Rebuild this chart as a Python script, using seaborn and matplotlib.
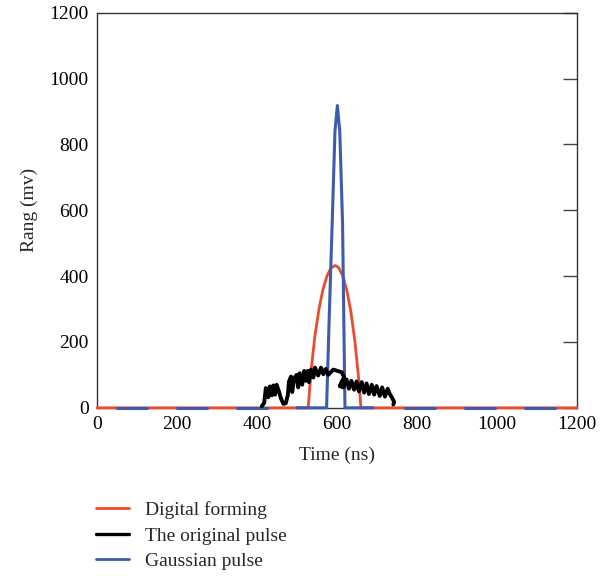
import numpy as np
import pandas as pd
import matplotlib
matplotlib.use("Agg")
import matplotlib.pyplot as plt
import seaborn as sns
from matplotlib.lines import Line2D

# Digital forming (red): flat baseline with a parabola-like pulse
red_x = [0, 528, 535, 545, 555, 565, 575, 585, 595, 600, 605, 615, 625, 635, 645, 655, 660, 1200]
red_y = [0, 0, 110, 220, 300, 360, 400, 425, 432, 430, 424, 400, 355, 290, 200, 80, 0, 0]

# Gaussian pulse (blue): baseline pieces and a narrow peak
blue_segments = [
    ([50, 125], [0, 0]),
    ([200, 275], [0, 0]),
    ([350, 425], [0, 0]),
    ([500, 574, 580, 588, 595, 601, 607, 614, 620, 690], [0, 0, 250, 560, 840, 918, 840, 560, 0, 0]),
    ([770, 845], [0, 0]),
    ([920, 995], [0, 0]),
    ([1070, 1145], [0, 0]),
]

# The original pulse (black): noisy trace
black_x = [412, 418, 422, 428, 432, 437, 441, 445, 449, 455, 460, 466, 472, 477, 480, 485, 488,
           493, 499, 503, 507, 513, 518, 522, 527, 530, 535, 541, 545, 553, 560, 566, 572,
           578, 591, 612, 618, 612, 607, 616, 624, 630, 636, 643, 649, 655, 662, 668, 674,
           680, 687, 693, 699, 707, 713, 720, 727, 732, 738, 743, 741]
black_y = [5, 15, 60, 32, 65, 38, 68, 40, 70, 49, 28, 12, 14, 38, 80, 95, 48,
           90, 100, 62, 105, 70, 112, 82, 112, 78, 116, 92, 122, 98, 122, 102, 118,
           100, 116, 108, 92, 80, 66, 62, 86, 58, 82, 55, 80, 50, 78, 46, 74,
           42, 70, 40, 66, 36, 62, 34, 58, 42, 30, 18, 10]

red_df = pd.DataFrame({"t": red_x, "v": red_y})
black_df = pd.DataFrame({"t": black_x, "v": black_y})
rows = []
for k, (xs, ys) in enumerate(blue_segments):
    for xv, yv in zip(xs, ys):
        rows.append({"t": xv, "v": yv, "seg": k})
blue_df = pd.DataFrame(rows)

RED = "#ee4a2c"
BLUE = "#3d5bb0"

sns.set_style("white")
plt.rcParams["font.family"] = ["Liberation Serif", "DejaVu Serif"]

fig = plt.figure(figsize=(6.11, 5.76), dpi=100)
ax = fig.add_axes([0.159, 0.292, 0.785, 0.686])

sns.lineplot(data=red_df, x="t", y="v", color=RED, lw=2.0, sort=False,
             estimator=None, ax=ax, clip_on=False, zorder=3)
sns.lineplot(data=blue_df, x="t", y="v", units="seg", color=BLUE, lw=2.2,
             sort=False, estimator=None, ax=ax, clip_on=False, zorder=4)
sns.lineplot(data=black_df, x="t", y="v", color="black", lw=2.8, sort=False,
             estimator=None, ax=ax, zorder=5)

ax.set_xlim(0, 1200)
ax.set_ylim(0, 1200)
ax.set_xticks(range(0, 1201, 200))
ax.set_yticks(range(0, 1201, 200))
ax.tick_params(direction="in", length=10, width=1, colors="#444444",
               labelcolor="black", labelsize=14, right=True, top=False, pad=6)
for s in ax.spines.values():
    s.set_color("#333333")
    s.set_linewidth(1.0)
ax.set_xlabel("Time (ns)", fontsize=14, labelpad=10)
ax.set_ylabel("Rang (mv)", fontsize=14, labelpad=8)

handles = [Line2D([], [], color=RED, lw=2),
           Line2D([], [], color="black", lw=2.4),
           Line2D([], [], color=BLUE, lw=2)]
labels = ["Digital forming", "The original pulse", "Gaussian pulse"]
fig.legend(handles, labels, loc="upper left", bbox_to_anchor=(0.145, 0.143),
           frameon=False, fontsize=14, handlelength=1.7, handletextpad=0.8,
           labelspacing=0.4, borderaxespad=0)

fig.savefig("out.png", dpi=100)
